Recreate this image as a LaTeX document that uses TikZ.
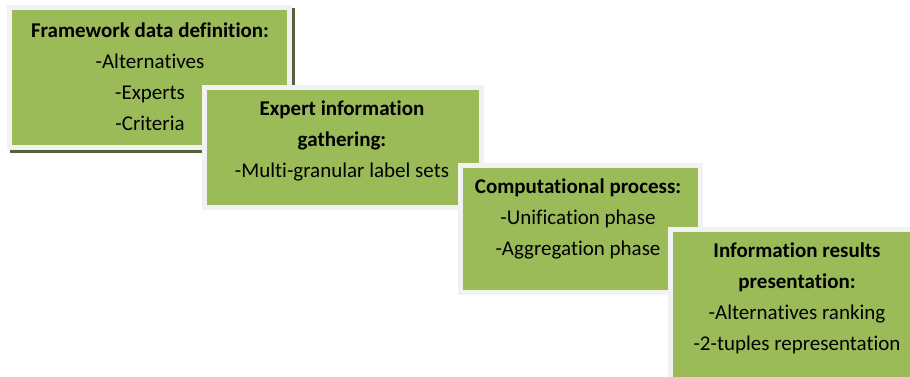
\documentclass[tikz,border=0pt]{standalone}
\usepackage{fontspec}
\setmainfont[Ligatures={NoCommon}]{Carlito}
\usetikzlibrary{shadows}
\definecolor{boxgreen}{HTML}{9BBB59}
\definecolor{boxrim}{HTML}{F2F2F2}
\definecolor{boxshade}{HTML}{56613F}
\begin{document}
\begin{tikzpicture}[x=1pt,y=-1pt,
  box/.style={draw=boxrim, line width=5pt, fill=boxgreen, inner sep=0pt},
  boxtext/.style={align=center, inner sep=0pt, font=\fontsize{21}{31}\selectfont}]
\useasboundingbox (0,0) rectangle (910,376);
\clip (0,0) rectangle (910,376);
%\draw (0,0) to[grid with coordinates] (910,376);
\node[box, minimum width=280, minimum height=140,
  drop shadow={fill=boxshade, draw=boxshade, line width=5pt, opacity=1,
  shadow xshift=3pt, shadow yshift=-3pt}] (frame) at (149.5,77.5) {};
\node[boxtext] (frametxt) at (150,77) {\textbf{Framework data definition:}\\-Alternatives\\-Experts\\-Criteria};
\node[box, minimum width=277, minimum height=120] (gather) at (343,147.5) {};
\node[boxtext] (gathertxt) at (342,141) {\textbf{Expert information}\\\textbf{gathering:}\\-Multi-granular label sets};
\node[box, minimum width=240, minimum height=127] (comput) at (580.5,229) {};
\node[boxtext] (computtxt) at (578,219) {\textbf{Computational process:}\\-Unification phase\\-Aggregation phase};
\node[box, minimum width=260, minimum height=160] (results) at (800.5,309.5) {};
\node[boxtext] (resultstxt) at (797,298) {\textbf{Information results}\\\textbf{presentation:}\\-Alternatives ranking\\-2-tuples representation};
\end{tikzpicture}
\end{document}
